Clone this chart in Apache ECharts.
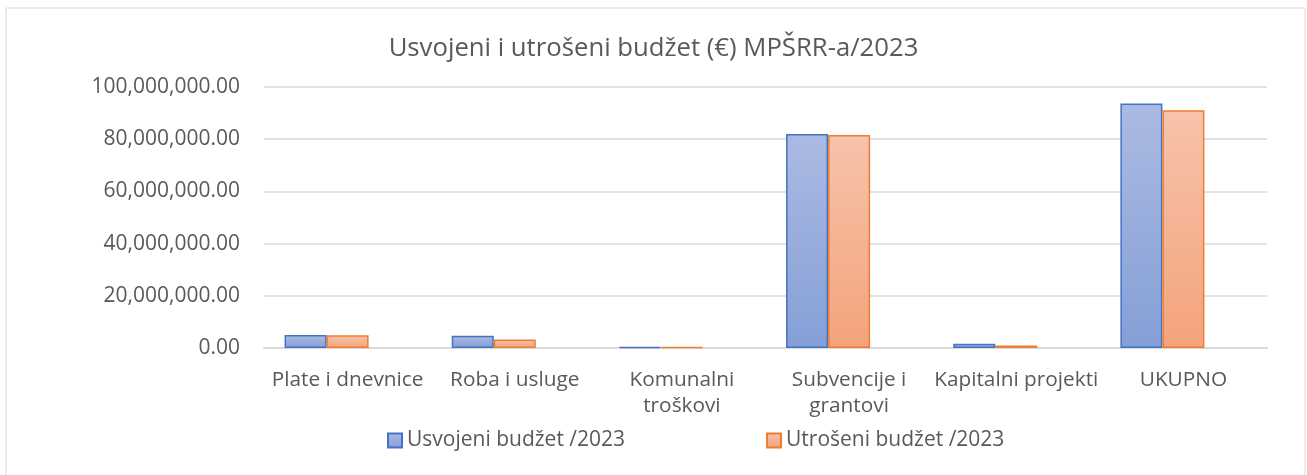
<!DOCTYPE html>
<html>
<head>
<meta charset="utf-8">
<script src="https://cdn.jsdelivr.net/npm/echarts@6/dist/echarts.min.js"></script>
<style>
  html, body { margin: 0; padding: 0; background: #fff; }
  #main { width: 1307px; height: 475px; }
</style>
</head>
<body>
<div id="main"></div>
<script>
const categories = ['Plate i dnevnice', 'Roba i usluge', 'Komunalni\ntroškovi', 'Subvencije i\ngrantovi', 'Kapitalni projekti', 'UKUPNO']
const usvojeni = [5000000, 4700000, 350000, 82000000, 1650000, 93700000]
const utroseni = [4900000, 3300000, 300000, 81600000, 1000000, 91100000]
const yTicks = [0, 20000000, 40000000, 60000000, 80000000, 100000000]

const font = 'Open Sans'
const textColor = '#595959'

function grad(top, bottom) {
  return new echarts.graphic.LinearGradient(0, 0, 0, 1, [
    { offset: 0, color: top },
    { offset: 1, color: bottom }
  ])
}

const chart = echarts.init(document.getElementById('main'))

chart.setOption({
  backgroundColor: '#fff',
  animation: false,
  graphic: [{
    type: 'rect',
    shape: { x: 6, y: 8, width: 1299, height: 475 },
    style: { fill: 'none', stroke: '#d9d9d9', lineWidth: 1 }
  }],
  title: {
    text: 'Usvojeni i utrošeni budžet (€) MPŠRR-a/2023',
    left: 'center',
    top: 31,
    textStyle: { fontFamily: font, fontSize: 25.7, fontWeight: 'normal', color: textColor }
  },
  legend: {
    data: ['Usvojeni budžet /2023', 'Utrošeni budžet /2023'],
    top: 425,
    left: 382,
    itemGap: 141,
    itemWidth: 14,
    itemHeight: 14,
    icon: 'rect',
    textStyle: { fontFamily: font, fontSize: 21, color: textColor }
  },
  grid: { left: 264, right: 40, top: 87, bottom: 127 },
  xAxis: {
    type: 'category',
    data: categories,
    axisLine: { lineStyle: { color: '#d9d9d9', width: 2 } },
    axisTick: { show: false },
    axisLabel: { fontFamily: font, fontSize: 20.8, color: textColor, margin: 19, lineHeight: 26, interval: 0 }
  },
  yAxis: {
    type: 'value',
    min: yTicks[0],
    max: yTicks[yTicks.length - 1],
    interval: yTicks[1] - yTicks[0],
    axisLine: { show: false },
    axisTick: { show: false },
    splitLine: { lineStyle: { color: '#d9d9d9', width: 1.5 } },
    axisLabel: {
      fontFamily: font, fontSize: 21, color: textColor, margin: 24,
      formatter: v => v.toLocaleString('en-US', { minimumFractionDigits: 2, maximumFractionDigits: 2 })
    }
  },
  series: [
    {
      name: 'Usvojeni budžet /2023',
      type: 'bar',
      data: usvojeni,
      barGap: 0,
      barCategoryGap: '24.6%',
      itemStyle: { color: grad('#abbae2', '#859fd6'), borderColor: '#4472c4', borderWidth: 1.5 }
    },
    {
      name: 'Utrošeni budžet /2023',
      type: 'bar',
      data: utroseni,
      itemStyle: { color: grad('#f7c3aa', '#f4a37c'), borderColor: '#ed7d31', borderWidth: 1.5 }
    },
    {
      // empty third series that Excel kept in the chart; it reserves a bar slot
      name: 'empty',
      type: 'bar',
      data: categories.map(() => null)
    }
  ]
})
</script>
</body>
</html>
